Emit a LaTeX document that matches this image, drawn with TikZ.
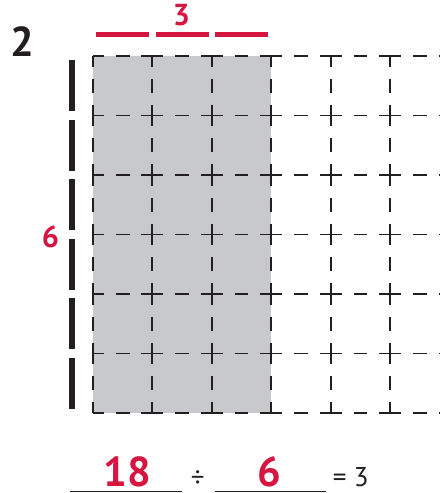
\documentclass[tikz,border=0pt]{standalone}
\usepackage{fontspec}
\setmainfont{PT Sans}
\usepackage{xcolor}
\definecolor{answerred}{RGB}{214,22,64}
\definecolor{cellgray}{RGB}{200,201,203}
\definecolor{ink}{RGB}{35,31,32}

\begin{document}
\begin{tikzpicture}[
		gridline/.style={ink, line width=0.9pt, dash pattern=on 10.4pt off 5.7pt on 6.65pt off 5.7pt, dash phase=5.2pt},
		sidebar/.style={ink, line width=2.8pt},
		topbar/.style={answerred, line width=2.4pt},
		blank/.style={ink, line width=0.5pt},
		redlabel/.style={answerred, inner sep=0pt, font=\fontsize{14.5}{17}\selectfont\bfseries},
		answer/.style={answerred, inner sep=0pt, anchor=base, font=\fontsize{20}{24}\selectfont\bfseries},
		eqtext/.style={ink, inner sep=0pt, font=\fontsize{13}{16}\selectfont}
	]
				\useasboundingbox (-1.560,-1.345) rectangle (5.839,6.941);
				% shaded columns
				\fill[cellgray] (0,0) rectangle (3,6);
				% dashed grid
				\foreach \x in {0,...,5}
					\draw[gridline] (\x,6) -- (\x,0);
				\foreach \y in {0,...,6}
					\draw[gridline] (0,\y) -- (5.839,\y);

				% bars for rows and columns
				\foreach \y in {0,...,5}
					\draw[sidebar] (-0.352,\y+0.07) -- (-0.352,\y+0.93);
				\foreach \x in {0,1,2}
					\draw[topbar] (\x+0.055,6.353) -- (\x+0.945,6.353);

				% labels
				\node[ink, inner sep=0pt, font=\fontsize{20}{24}\selectfont\bfseries] (exnum) at (-1.191,6.235) {2};
				\node[redlabel] (cols) at (1.49,6.69) {3};
				\node[redlabel] (rows) at (-0.71,2.96) {6};

				% division sentence
				\draw[blank] (-0.386,-1.319) -- (1.493,-1.319);
				\draw[blank] (2.047,-1.319) -- (3.926,-1.319);
				\node[answer] (dividend) at (0.579,-1.244) {18};
				\node[eqtext, anchor=base] (divsign) at (1.762,-1.244) {÷};
				\node[answer] (divisor) at (2.97,-1.244) {6};
				\node[eqtext, anchor=base west] (result) at (4.027,-1.244) {= 3};
			\end{tikzpicture}
\end{document}
